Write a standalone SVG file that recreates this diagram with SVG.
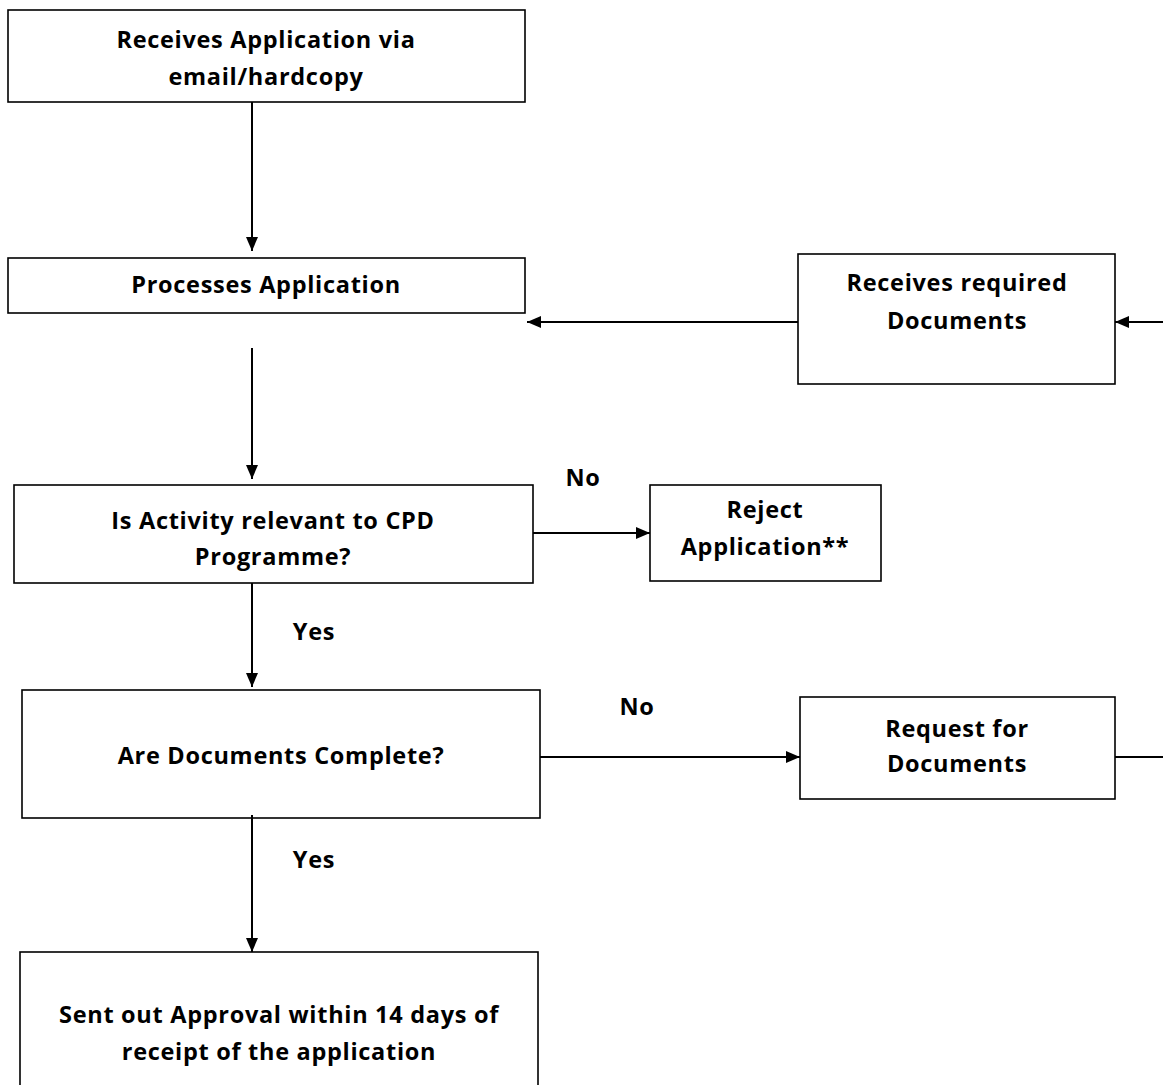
<svg xmlns="http://www.w3.org/2000/svg" width="1163" height="1085" viewBox="0 0 1163 1085">
<style>
.box{fill:#fff;stroke:#000;stroke-width:1.6}
.t{font-family:"Open Sans",Lato,sans-serif;font-weight:700;font-size:23.5px;letter-spacing:0.7px;fill:#000;text-anchor:middle}
.c{stroke:#000;stroke-width:2;fill:none}
</style>
<defs>
<marker id="ah" viewBox="0 0 14 12" refX="14" refY="6" markerWidth="14" markerHeight="12" markerUnits="userSpaceOnUse" orient="auto">
<path d="M0,0 L14,6 L0,12 Z" fill="#000"/>
</marker>
</defs>
<rect width="1163" height="1085" fill="#fff"/>
<g id="n1"><rect class="box" x="8" y="10" width="517" height="92"/>
<text class="t" x="266" y="48">Receives Application via</text>
<text class="t" x="266" y="85">email/hardcopy</text></g>
<g id="n2"><rect class="box" x="8" y="258" width="517" height="55"/>
<text class="t" x="266" y="293">Processes Application</text></g>
<g id="n3"><rect class="box" x="798" y="254" width="317" height="130"/>
<text class="t" x="957" y="291">Receives required</text>
<text class="t" x="957" y="329">Documents</text></g>
<g id="n4"><rect class="box" x="14" y="485" width="519" height="98"/>
<text class="t" x="273" y="529">Is Activity relevant to CPD</text>
<text class="t" x="273" y="565">Programme?</text></g>
<g id="n5"><rect class="box" x="650" y="485" width="231" height="96"/>
<text class="t" x="765" y="518">Reject</text>
<text class="t" x="765" y="555">Application**</text></g>
<g id="n6"><rect class="box" x="22" y="690" width="518" height="128"/>
<text class="t" x="281" y="764">Are Documents Complete?</text></g>
<g id="n7"><rect class="box" x="800" y="697" width="315" height="102"/>
<text class="t" x="957" y="737">Request for</text>
<text class="t" x="957" y="772">Documents</text></g>
<g id="n8"><rect class="box" x="20" y="952" width="518" height="140"/>
<text class="t" x="279" y="1023">Sent out Approval within 14 days of</text>
<text class="t" x="279" y="1060">receipt of the application</text></g>
<g id="labels">
<text class="t" x="583" y="486">No</text>
<text class="t" x="314" y="640">Yes</text>
<text class="t" x="637" y="715">No</text>
<text class="t" x="314" y="868">Yes</text>
</g>
<g id="connectors">
<line class="c" x1="252" y1="102" x2="252" y2="251" marker-end="url(#ah)"/>
<line class="c" x1="798" y1="322" x2="527" y2="322" marker-end="url(#ah)"/>
<line class="c" x1="1163" y1="322" x2="1115" y2="322" marker-end="url(#ah)"/>
<line class="c" x1="252" y1="348" x2="252" y2="479" marker-end="url(#ah)"/>
<line class="c" x1="533" y1="533" x2="650" y2="533" marker-end="url(#ah)"/>
<line class="c" x1="252" y1="583" x2="252" y2="687" marker-end="url(#ah)"/>
<line class="c" x1="540" y1="757" x2="800" y2="757" marker-end="url(#ah)"/>
<line class="c" x1="1115" y1="757" x2="1163" y2="757"/>
<line class="c" x1="252" y1="815" x2="252" y2="952" marker-end="url(#ah)"/>
</g>
</svg>
